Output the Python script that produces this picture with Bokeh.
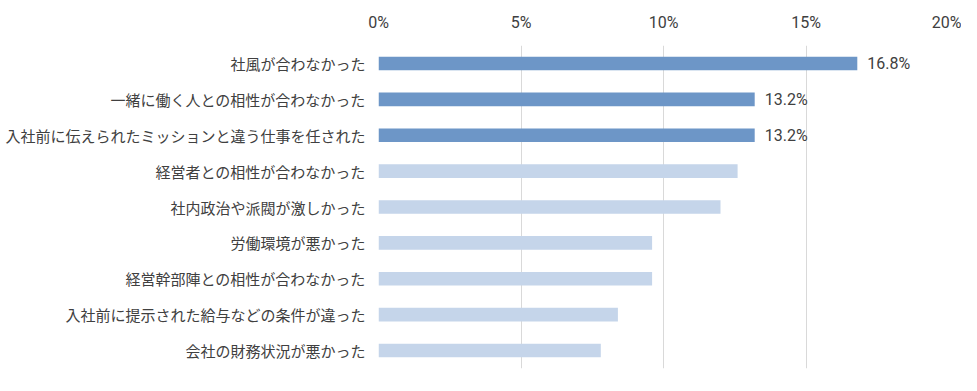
from bokeh.plotting import figure
from bokeh.models import ColumnDataSource, FactorRange, Range1d, FixedTicker
from bokeh.core.properties import value
from bokeh.embed import file_html
from bokeh.resources import INLINE

categories = [
    "社風が合わなかった",
    "一緒に働く人との相性が合わなかった",
    "入社前に伝えられたミッションと違う仕事を任された",
    "経営者との相性が合わなかった",
    "社内政治や派閥が激しかった",
    "労働環境が悪かった",
    "経営幹部陣との相性が合わなかった",
    "入社前に提示された給与などの条件が違った",
    "会社の財務状況が悪かった",
]
values = [16.8, 13.2, 13.2, 12.6, 12.0, 9.6, 9.6, 8.4, 7.8]
tick_values = [0, 5, 10, 15, 20]
tick_labels = ["0%", "5%", "10%", "15%", "20%"]
highlight_count = 3

DARK = "#6d96c7"
LIGHT = "#c5d5ea"
TEXT = "#404040"
GRID = "#d9d9d9"
JP_FONT = "Noto Sans CJK JP"
NUM_FONT = "Roboto"

colors = [DARK if i < highlight_count else LIGHT for i in range(len(categories))]
labels = [f"{v:.1f}%" if i < highlight_count else "" for i, v in enumerate(values)]

src = ColumnDataSource(dict(cat=categories, val=values, color=colors, label=labels))

p = figure(
    width=961, height=375,
    y_range=FactorRange(*reversed(categories), range_padding=0),
    x_range=Range1d(0, 20),
    x_axis_location="above",
    output_backend="svg", toolbar_location=None,
    min_border_left=378, min_border_right=13, min_border_top=45, min_border_bottom=7,
)
p.outline_line_color = None
p.background_fill_color = "white"
p.border_fill_color = "white"

p.hbar(y="cat", right="val", left=0, height=0.38, color="color", line_color=None, source=src)

p.text(x="val", y="cat", text="label", source=src, x_offset=10,
       text_font=value(NUM_FONT), text_font_size="16px", text_color=TEXT,
       text_baseline="middle", text_align="left")

p.xaxis.ticker = FixedTicker(ticks=tick_values)
p.xaxis.major_label_overrides = {t: l for t, l in zip(tick_values, tick_labels)}
p.xaxis.axis_line_color = None
p.xaxis.major_tick_line_color = None
p.xaxis.minor_tick_line_color = None
p.xaxis.major_label_text_font = NUM_FONT
p.xaxis.major_label_text_font_size = "16px"
p.xaxis.major_label_text_color = TEXT
p.xaxis.major_label_standoff = 8

p.yaxis.axis_line_color = None
p.yaxis.major_tick_line_color = None
p.yaxis.major_label_text_font = JP_FONT
p.yaxis.major_label_text_font_size = "15px"
p.yaxis.major_label_text_color = TEXT
p.yaxis.major_label_standoff = 7

p.xgrid.grid_line_color = GRID
p.xgrid.ticker = FixedTicker(ticks=tick_values)
p.ygrid.grid_line_color = None

open("out.html", "w").write(file_html(p, INLINE))
